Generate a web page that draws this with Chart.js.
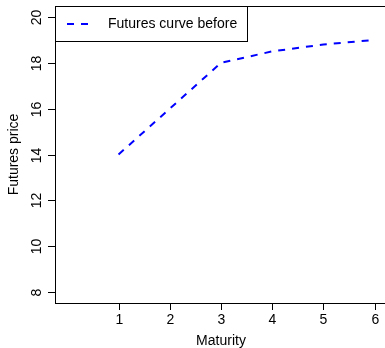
<!DOCTYPE html>
<html>
<head>
    <meta charset="UTF-8" />
    <title>Futures curve</title>
    <script src="https://cdn.jsdelivr.net/npm/chart.js"></script>
    <style>
        html, body { margin: 0; padding: 0; overflow: hidden; background: #fff; }
    </style>
</head>
<body>
    <canvas id="chart" width="392" height="348"></canvas>

    <script>
        // data
        const maturity = [1, 2, 3, 4, 5, 6];
        const priceBefore = [14, 16, 18, 18.5, 18.8, 19];
        const xTicks = [1, 2, 3, 4, 5, 6];
        const yTicks = [8, 10, 12, 14, 16, 18, 20];
        const seriesLabel = 'Futures curve before';
        const xTitle = 'Maturity';
        const yTitle = 'Futures price';

        const FONT = '14px "Liberation Sans", Arial, sans-serif';

        // R style frame, axes, labels and boxed legend
        const rAxes = {
            id: 'rAxes',
            afterDraw(chart) {
                const ctx = chart.ctx;
                const area = chart.chartArea;
                const xs = chart.scales.x;
                const ys = chart.scales.y;
                ctx.save();
                ctx.strokeStyle = '#000';
                ctx.fillStyle = '#000';
                ctx.lineWidth = 1;
                ctx.font = FONT;

                // frame
                ctx.strokeRect(area.left + 0.5, area.top + 0.5, area.right - area.left, area.bottom - area.top);

                // x axis
                ctx.textAlign = 'center';
                ctx.textBaseline = 'middle';
                xTicks.forEach(v => {
                    const px = Math.round(xs.getPixelForValue(v)) + 0.5;
                    ctx.beginPath();
                    ctx.moveTo(px, area.bottom);
                    ctx.lineTo(px, area.bottom + 7);
                    ctx.stroke();
                    ctx.fillText(String(v), px, area.bottom + 17);
                });
                ctx.fillText(xTitle, 221, 341);

                // y axis (labels rotated like R's las=0)
                yTicks.forEach(v => {
                    const py = Math.round(ys.getPixelForValue(v)) + 0.5;
                    ctx.beginPath();
                    ctx.moveTo(area.left - 7, py);
                    ctx.lineTo(area.left, py);
                    ctx.stroke();
                    ctx.save();
                    ctx.translate(area.left - 18, py);
                    ctx.rotate(-Math.PI / 2);
                    ctx.fillText(String(v), 0, 0);
                    ctx.restore();
                });
                ctx.save();
                ctx.translate(14, (area.top + area.bottom) / 2);
                ctx.rotate(-Math.PI / 2);
                ctx.fillText(yTitle, 0, 0);
                ctx.restore();

                // legend box in the top left corner
                const ds = chart.data.datasets[0];
                ctx.fillStyle = '#fff';
                ctx.fillRect(area.left + 0.5, area.top + 0.5, 192, 35);
                ctx.strokeRect(area.left + 0.5, area.top + 0.5, 192, 35);
                ctx.strokeStyle = ds.borderColor;
                ctx.lineWidth = ds.borderWidth;
                ctx.setLineDash(ds.borderDash);
                ctx.beginPath();
                ctx.moveTo(area.left + 12, area.top + 18);
                ctx.lineTo(area.left + 36, area.top + 18);
                ctx.stroke();
                ctx.setLineDash([]);
                ctx.fillStyle = '#000';
                ctx.textAlign = 'left';
                ctx.fillText(ds.label, area.left + 53, area.top + 18);
                ctx.restore();
            }
        };

        new Chart(document.getElementById('chart'), {
            type: 'line',
            data: {
                datasets: [{
                    label: seriesLabel,
                    data: maturity.map((m, i) => ({ x: m, y: priceBefore[i] })),
                    borderColor: '#0000ff',
                    borderWidth: 2,
                    borderDash: [7, 7],
                    pointRadius: 0,
                    fill: false,
                    tension: 0
                }]
            },
            options: {
                responsive: false,
                animation: false,
                layout: { padding: { left: 55, top: 6, right: 5, bottom: 45 } },
                plugins: { legend: { display: false }, tooltip: { enabled: false } },
                scales: {
                    x: { type: 'linear', min: -0.24, max: 6.24, display: false },
                    y: { type: 'linear', min: 7.52, max: 20.48, display: false }
                }
            },
            plugins: [rAxes]
        });
    </script>
</body>
</html>
